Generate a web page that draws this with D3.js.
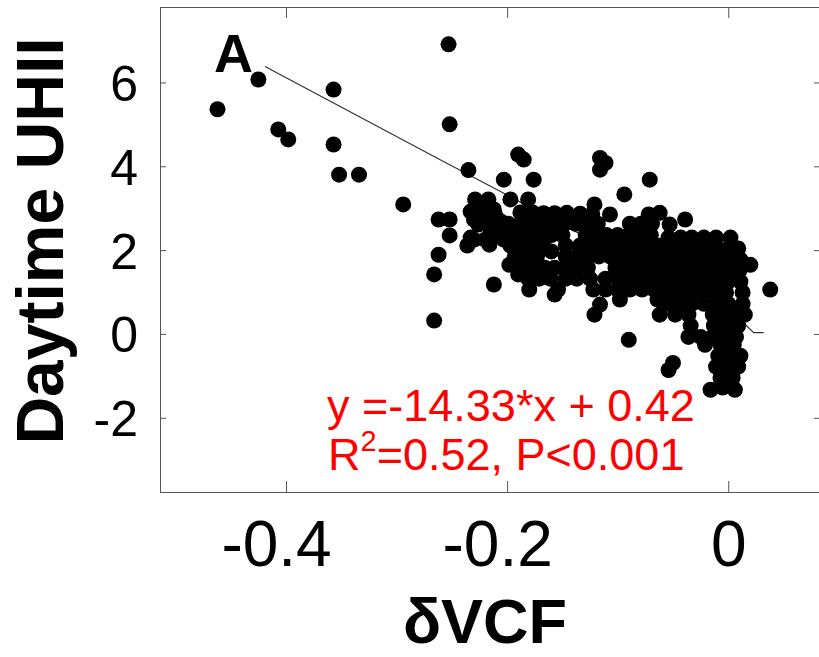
<!DOCTYPE html>
<html>
<head>
<meta charset="utf-8">
<script src="https://cdn.jsdelivr.net/npm/d3@7"></script>
<style>
	body { margin: 0; background: #fff; }
	svg { display: block; font-family: "Liberation Sans", Arial, sans-serif; }
</style>
</head>
<body>
<script>
const width = 819;
const height = 657;

// tick values
const xTicks = [-0.4, -0.2, 0];
const yTicks = [-2, 0, 2, 4, 6];

// samples: [δVCF, daytime UHII]
const samples = [
	// scattered points
	[-0.462, 5.36], [-0.425, 6.07], [-0.407, 4.88], [-0.398, 4.64], [-0.357, 5.83], [-0.357, 4.52],
	[-0.352, 3.80], [-0.334, 3.80], [-0.294, 3.09], [-0.253, 6.91], [-0.252, 5.00], [-0.235, 3.91],
	[-0.203, 3.68], [-0.190, 4.28], [-0.185, 4.16], [-0.262, 2.73], [-0.252, 2.73], [-0.230, 2.73],
	[-0.252, 2.35], [-0.262, 1.89], [-0.266, 1.42], [-0.266, 0.32], [-0.236, 2.11], [-0.230, 2.25],
	[-0.216, 2.13], [-0.215, 2.49], [-0.199, 2.49], [-0.203, 2.25], [-0.212, 1.18], [-0.198, 1.65],
	[-0.190, 1.42], [-0.180, 1.06], [-0.157, 0.94], [-0.116, 0.70], [-0.121, 0.46], [-0.090, -0.14],
	[-0.116, 4.20], [-0.111, 4.08], [-0.116, 3.92], [-0.071, 3.68], [-0.176, 3.68], [-0.094, 3.33],
	[-0.121, 3.09], [-0.107, 2.85], [-0.181, 3.21], [-0.072, 2.85], [-0.062, 2.89], [-0.053, 2.61],
	[-0.039, 2.73], [0.020, 1.65], [0.038, 1.06], [-0.062, 0.46], [-0.050, -0.69], [-0.054, -0.86],
	[-0.016, -1.33], [0.006, -1.33], [-0.001, -1.17], [-0.217, 3.21], [-0.212, 2.97], [-0.218, 2.85],
	[-0.197, 3.21], [-0.229, 3.21],
	[-0.233, 2.92], [-0.223, 2.97], [-0.211, 2.85], [-0.226, 2.61], [-0.214, 2.54], [-0.233, 2.30],
	[-0.220, 2.25], [-0.208, 2.35], [-0.224, 3.02], [-0.206, 2.69],
	// upper band
	[-0.188, 2.90], [-0.177, 2.90], [-0.167, 2.88], [-0.157, 2.88], [-0.146, 2.89], [-0.134, 2.87], [-0.123, 2.86],
	[-0.199, 2.63], [-0.188, 2.63], [-0.178, 2.63], [-0.168, 2.63], [-0.158, 2.63], [-0.148, 2.63],
	[-0.138, 2.63], [-0.128, 2.63], [-0.118, 2.63], [-0.089, 2.63], [-0.079, 2.63], [-0.069, 2.63],
	[-0.202, 2.36], [-0.191, 2.36], [-0.181, 2.36], [-0.170, 2.36], [-0.160, 2.36], [-0.150, 2.36],
	[-0.129, 2.36], [-0.119, 2.36], [-0.110, 2.36], [-0.100, 2.36], [-0.090, 2.36], [-0.080, 2.36], [-0.070, 2.36],
	[-0.197, 2.11], [-0.187, 2.11], [-0.177, 2.11], [-0.167, 2.11], [-0.147, 2.11], [-0.134, 2.11],
	[-0.124, 2.11], [-0.114, 2.11], [-0.104, 2.11], [-0.094, 2.11], [-0.084, 2.11], [-0.074, 2.11], [-0.064, 2.11],
	[-0.193, 1.85], [-0.183, 1.85], [-0.173, 1.85], [-0.160, 1.97], [-0.147, 1.85], [-0.137, 1.85],
	[-0.127, 1.85], [-0.117, 1.85], [-0.107, 1.85], [-0.097, 1.85], [-0.087, 1.85], [-0.077, 1.85], [-0.067, 1.85],
	[-0.186, 1.58], [-0.176, 1.58], [-0.166, 1.58], [-0.157, 1.58], [-0.147, 1.58], [-0.137, 1.58],
	[-0.127, 1.58], [-0.102, 1.58], [-0.092, 1.58], [-0.082, 1.58], [-0.072, 1.58], [-0.062, 1.58],
	[-0.181, 1.32], [-0.171, 1.32], [-0.161, 1.32], [-0.147, 1.32], [-0.137, 1.32], [-0.125, 1.32],
	[-0.111, 1.32], [-0.100, 1.32], [-0.090, 1.32], [-0.080, 1.32], [-0.070, 1.32],
	[-0.154, 1.06], [-0.122, 1.06], [-0.111, 1.06], [-0.100, 1.06], [-0.089, 1.06], [-0.078, 1.06], [-0.067, 1.06],
	[-0.098, 0.82], [-0.064, 0.82],
	// main cluster near zero
	[-0.054, 2.30], [-0.043, 2.30], [-0.033, 2.30], [-0.022, 2.30], [-0.011, 2.30], [0.002, 2.30],
	[-0.060, 2.04], [-0.050, 2.04], [-0.040, 2.04], [-0.030, 2.04], [-0.020, 2.04], [-0.010, 2.04], [0.000, 2.04], [0.009, 2.04],
	[-0.057, 1.77], [-0.047, 1.77], [-0.037, 1.77], [-0.027, 1.77], [-0.017, 1.77], [-0.007, 1.77], [0.003, 1.77], [0.011, 1.77],
	[-0.060, 1.51], [-0.050, 1.51], [-0.040, 1.51], [-0.030, 1.51], [-0.020, 1.51], [-0.010, 1.51], [0.000, 1.51], [0.010, 1.51],
	[-0.060, 1.25], [-0.050, 1.25], [-0.040, 1.25], [-0.030, 1.25], [-0.020, 1.25], [-0.010, 1.25], [0.000, 1.25], [0.011, 1.25],
	[-0.062, 0.99], [-0.052, 0.99], [-0.042, 0.99], [-0.032, 0.99], [-0.022, 0.99], [-0.012, 0.99], [-0.002, 0.99], [0.013, 0.99],
	[-0.054, 0.72], [-0.043, 0.72], [-0.033, 0.72], [-0.022, 0.72], [-0.011, 0.72], [0.000, 0.72], [0.013, 0.72],
	[-0.048, 0.46], [-0.036, 0.46], [-0.014, 0.46], [-0.004, 0.46], [0.007, 0.46], [0.015, 0.46],
	[-0.034, 0.20], [-0.013, 0.20], [-0.002, 0.20], [0.009, 0.20],
	[-0.036, -0.07], [-0.025, -0.07], [-0.014, -0.07], [-0.004, -0.07], [0.007, -0.07],
	[-0.021, -0.26], [-0.007, -0.26], [0.005, -0.26],
	// lower tail
	[-0.009, -0.52], [0.002, -0.52], [0.011, -0.52],
	[-0.011, -0.78], [0.000, -0.78], [0.009, -0.78],
	[-0.007, -1.05], [0.004, -1.05], [-0.005, -1.28]
];

// fitted line vertices
const fitX = [-0.419, -0.261, -0.206, 0.011, 0.023, 0.032];
const fitY = [6.38, 4.16, 3.40, 0.34, 0.03, 0.03];

const x = d3.scaleLinear().domain([-0.514, 0.083]).range([160, 820]);
const y = d3.scaleLinear().domain([-3.77, 7.8]).range([492, 7]);

const svg = d3.select("body")
	.append("svg")
	.attr("width", width)
	.attr("height", height);

// fitted line under the points
svg.append("path")
	.datum(fitX.map((d, i) => [d, fitY[i]]))
	.attr("fill", "none")
	.attr("stroke", "#333")
	.attr("stroke-width", 1.2)
	.attr("d", d3.line().x(d => x(d[0])).y(d => y(d[1])));

svg.append("g")
	.selectAll("circle")
	.data(samples)
	.enter()
	.append("circle")
	.attr("cx", d => x(d[0]))
	.attr("cy", d => y(d[1]))
	.attr("r", 8)
	.attr("fill", "#000");

// box with inward ticks
const frame = "#555";
const fmt = d => String(d);

const bottom = svg.append("g")
	.attr("transform", "translate(0,492)")
	.call(d3.axisBottom(x).tickValues(xTicks).tickSize(-11).tickFormat(fmt));
bottom.selectAll("text").attr("y", 74).attr("dy", null)
	.attr("dx", d => d < 0 ? -10 : 0)
	.style("font-size", "64px").attr("fill", "#000");

const left = svg.append("g")
	.attr("transform", "translate(160,0)")
	.call(d3.axisLeft(y).tickValues(yTicks).tickSize(-6).tickFormat(fmt));
left.selectAll("text").attr("x", -22).attr("dy", "0.36em")
	.style("font-size", "50px").attr("fill", "#000");

svg.append("g")
	.attr("transform", "translate(0,7)")
	.call(d3.axisTop(x).tickValues(xTicks).tickSize(-11).tickFormat(""));

svg.append("g")
	.attr("transform", "translate(820,0)")
	.call(d3.axisRight(y).tickValues(yTicks).tickSize(-6).tickFormat(""));

svg.selectAll(".domain").remove();
svg.selectAll(".tick line").attr("stroke", frame);

svg.append("rect")
	.attr("x", x.range()[0] + 0.5)
	.attr("y", y.range()[1] + 0.5)
	.attr("width", x.range()[1] - x.range()[0])
	.attr("height", y.range()[0] - y.range()[1])
	.attr("fill", "none")
	.attr("stroke", frame);

// titles
svg.append("text")
	.attr("transform", "translate(63,241) rotate(-90)")
	.attr("text-anchor", "middle")
	.style("font-size", "66px")
	.style("font-weight", "bold")
	.text("Daytime UHII");

svg.append("text")
	.attr("x", 485)
	.attr("y", 643)
	.attr("text-anchor", "middle")
	.style("font-size", "63px")
	.style("font-weight", "bold")
	.text("δVCF");

svg.append("text")
	.attr("x", 214)
	.attr("y", 72)
	.style("font-size", "54px")
	.style("font-weight", "bold")
	.text("A");

// regression note
const note = svg.append("g")
	.attr("fill", "#ff0000")
	.style("font-size", "45px");

note.append("text")
	.attr("x", 327)
	.attr("y", 421)
	.text("y =-14.33*x + 0.42");

const r2 = note.append("text")
	.attr("x", 328)
	.attr("y", 470);
r2.append("tspan").text("R");
r2.append("tspan").attr("dy", -19).style("font-size", "29px").text("2");
r2.append("tspan").attr("dy", 19).text("=0.52, P<0.001");
</script>
</body>
</html>
